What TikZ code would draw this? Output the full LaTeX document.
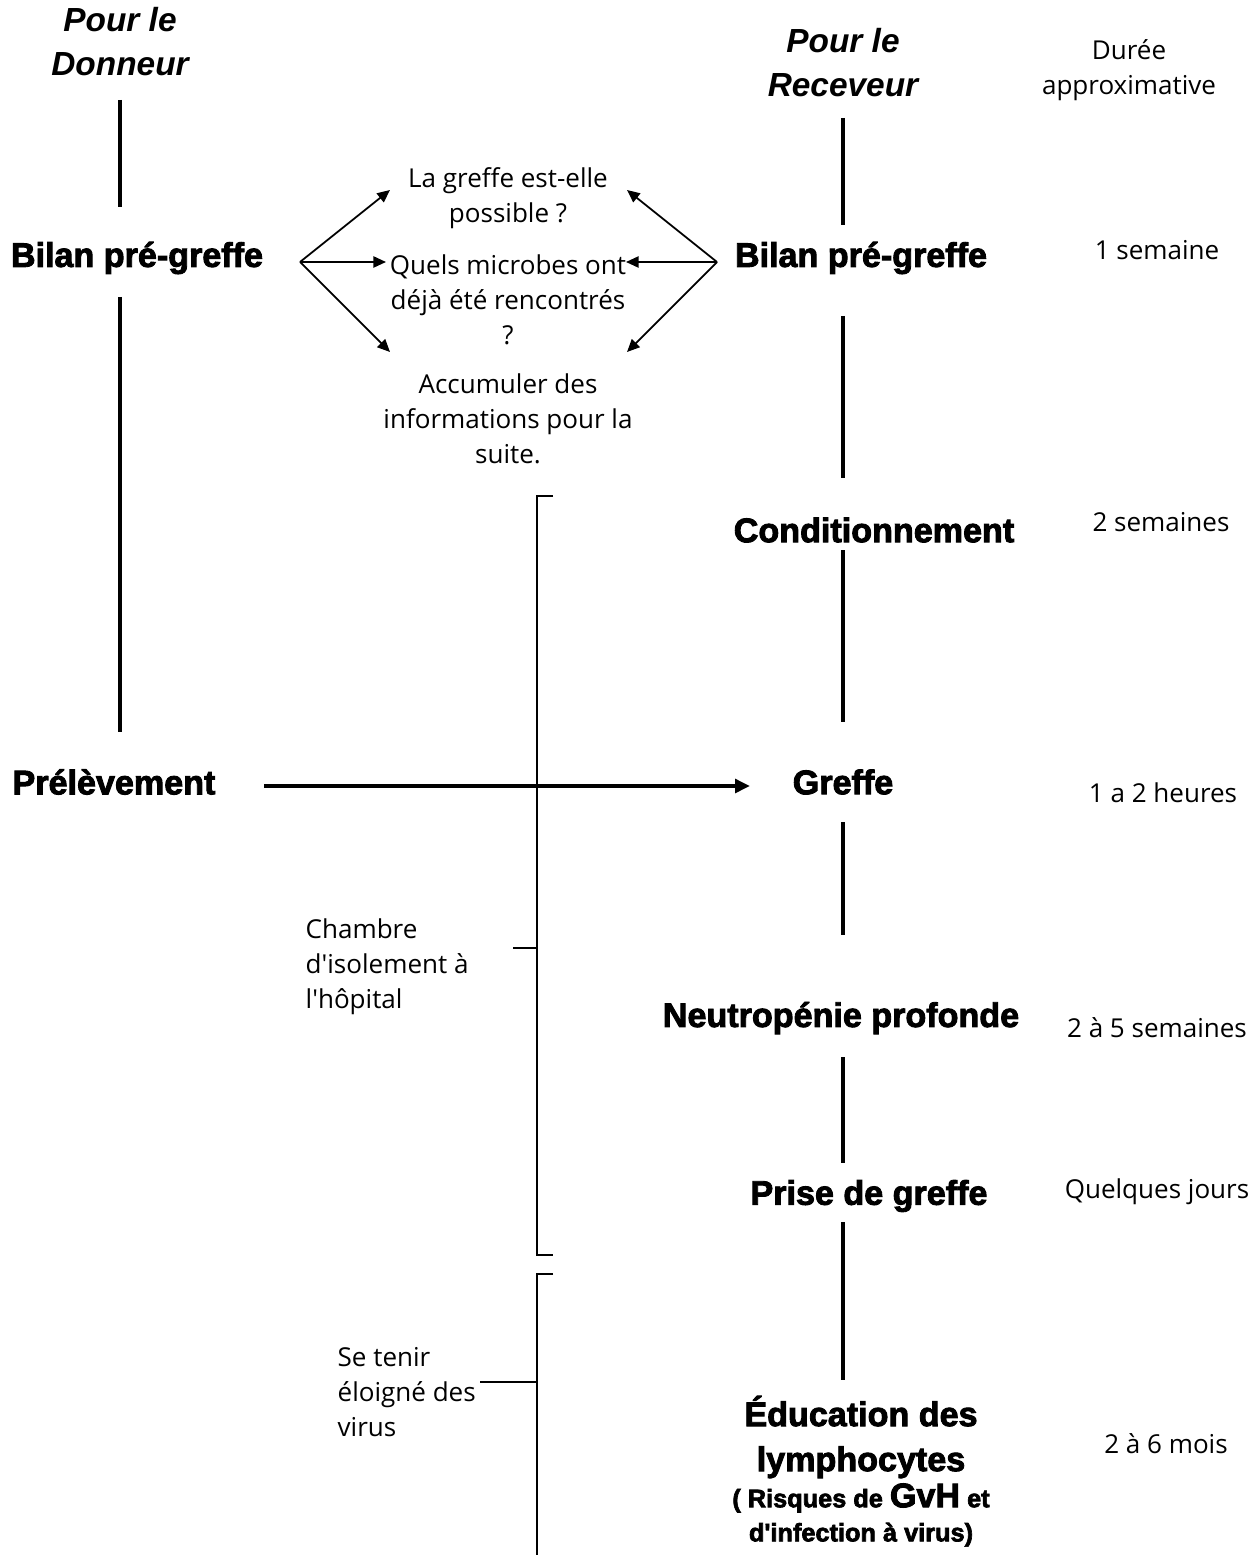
\documentclass[tikz,border=0pt]{standalone}
\usepackage{fontspec}
\setmainfont{Open Sans}[Ligatures=TeXOff]
\newfontfamily\heavyfont{Liberation Sans}[Ligatures=TeXOff, BoldFeatures={FakeBold=2.6}]
\usepackage{tikz}
\usetikzlibrary{arrows.meta, calc}
\tikzset{
  side/.style={font=\heavyfont\bfseries\itshape\fontsize{9.5}{12.5}\selectfont, inner sep=0pt, align=center},
  stage/.style={font=\heavyfont\bfseries\fontsize{9.7}{12.8}\selectfont, inner sep=0pt, align=center},
  risk/.style={font=\heavyfont\bfseries\fontsize{7.2}{9.7}\selectfont, inner sep=0pt, align=center},
  note/.style={font=\fontsize{7.4}{10}\selectfont, inner sep=0pt, align=center},
  aside/.style={font=\fontsize{7.4}{10}\selectfont, inner sep=0pt, align=left, anchor=west},
  spine/.style={line width=1.2pt},
  fan/.style={-{Triangle[length=3.6pt, width=3.2pt]}, line width=0.5pt},
  transfer/.style={-{Triangle[length=4.2pt, width=3.8pt]}, line width=1.2pt},
  bracket/.style={line width=0.5pt},
}

\begin{document}
\begin{tikzpicture}[x=0.01cm, y=-0.01cm]
  \useasboundingbox (0,0) rectangle (1259,1555);
  \coordinate (lcol) at (120,0);
  \coordinate (rcol) at (843,0);
  \coordinate (bcol) at (537,0);

  % Column headings
  \node[side] (pdon) at (120,42) {Pour le\\Donneur};
  \node[side] (prec) at (843,63) {Pour le\\Receveur};
  \node[note] (duree) at (1129,70) {Durée\\approximative};

  % Donor side
  \node[stage] (lbilan) at (137,258) {Bilan pré-greffe};
  \node[stage] (lprel) at (114,782) {Prélèvement};

  % Recipient side
  \node[stage] (rbilan) at (861,258) {Bilan pré-greffe};
  \node[stage] (rcond) at (874,530) {Conditionnement};
  \node[stage] (rgreffe) at (843,782) {Greffe};
  \node[stage] (rneutro) at (841,1018) {Neutropénie profonde};
  \node[stage] (rprise) at (869,1196) {Prise de greffe};
  \node[stage] (reduc) at (861,1437) {Éducation des\\lymphocytes};
  \node[risk] (rrisk) at (861,1515) {( Risques de {\fontsize{9.7}{9.7}\selectfont GvH} et\\d'infection à virus)};

  % Durations
  \node[note] (d1) at (1157,250) {1 semaine};
  \node[note] (d2) at (1161,522) {2 semaines};
  \node[note] (d3) at (1163,793) {1 a 2 heures};
  \node[note] (d4) at (1157,1028) {2 à 5 semaines};
  \node[note] (d5) at (1157,1192) {Quelques jours};
  \node[note] (d6) at (1166,1444) {2 à 6 mois};

  % Questions of the pre-graft check
  \node[note] (q1) at (508,198) {La greffe est-elle\\possible ?};
  \node[note] (q2) at (508,300) {Quels microbes ont\\déjà été rencontrés\\?};
  \node[note] (q3) at (508,419) {Accumuler des\\informations pour la\\suite.};

  % Hospital periods
  \node[aside] (chambre) at (305,967) {Chambre\\d'isolement à\\l'hôpital};
  \node[aside] (virus) at (337,1392) {Se tenir\\éloigné des\\virus};

  % Donor spine
  \draw[spine] ($(pdon.center -| lcol)+(0,58)$) -- ($(lbilan.center -| lcol)+(0,-51)$);
  \draw[spine] ($(lbilan.center -| lcol)+(0,39)$) -- ($(lprel.center -| lcol)+(0,-50)$);

  % Recipient spine
  \draw[spine] ($(prec.center -| rcol)+(0,55)$) -- ($(rbilan.center -| rcol)+(0,-33)$);
  \draw[spine] ($(rbilan.center -| rcol)+(0,58)$) -- ($(rcond.center -| rcol)+(0,-52)$);
  \draw[spine] ($(rcond.center -| rcol)+(0,20)$) -- ($(rgreffe.center -| rcol)+(0,-60)$);
  \draw[spine] ($(rgreffe.center -| rcol)+(0,40)$) -- ($(rneutro.center -| rcol)+(0,-83)$);
  \draw[spine] ($(rneutro.center -| rcol)+(0,39)$) -- ($(rprise.center -| rcol)+(0,-33)$);
  \draw[spine] ($(rprise.center -| rcol)+(0,26)$) -- ($(reduc.center -| rcol)+(0,-57)$);

  % Fans to the questions
  \coordinate (lfan) at ($(lbilan.center)+(163,4)$);
  \coordinate (rfan) at ($(rbilan.center)+(-144,4)$);
  \draw[fan] (lfan) -- ($(q1.center)+(-118,-8)$);
  \draw[fan] (lfan) -- ($(q2.center)+(-122,-38)$);
  \draw[fan] (lfan) -- ($(q3.center)+(-118,-67)$);
  \draw[fan] (rfan) -- ($(q1.center)+(119,-8)$);
  \draw[fan] (rfan) -- ($(q2.center)+(118,-38)$);
  \draw[fan] (rfan) -- ($(q3.center)+(119,-67)$);

  % Transfer of the graft
  \draw[transfer] ($(lprel.center)+(150,4)$) -- ($(rgreffe.center)+(-93,4)$);

  % Brackets
  \draw[bracket] (553,496) -- (bcol |- 0,496) -- (bcol |- 0,1255) -- (553,1255);
  \draw[bracket] ($(chambre.west)+(208,-19)$) -- (bcol |- 0,948);
  \draw[bracket] (553,1274) -- (bcol |- 0,1274) -- (bcol |- 0,1555);
  \draw[line width=0.8pt] (bcol |- 0,1274) -- (bcol |- 0,1330);
  \draw[bracket] ($(virus.west)+(143,-10)$) -- (bcol |- 0,1382);
\end{tikzpicture}
\end{document}
